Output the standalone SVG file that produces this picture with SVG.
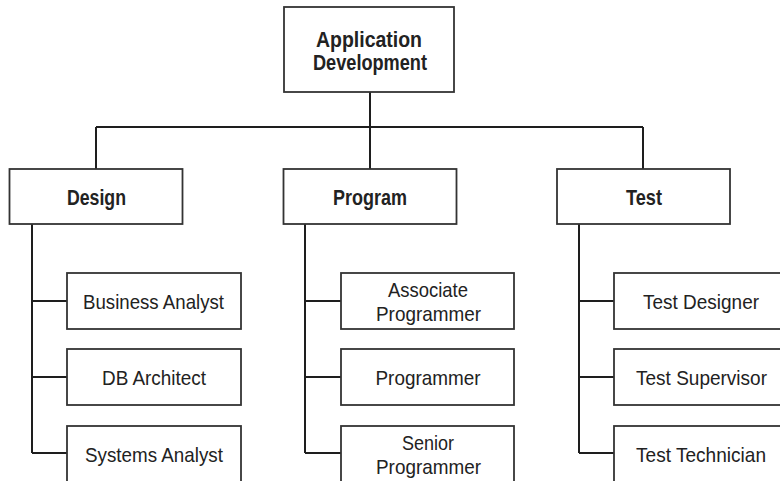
<svg xmlns="http://www.w3.org/2000/svg" width="780" height="481" viewBox="0 0 780 481">
<style>
  .box { fill: #fff; stroke: #333; stroke-width: 1.8; }
  .conn { fill: none; stroke: #1e1e1e; stroke-width: 2; }
  .t { font-family: "Liberation Sans", Arial, sans-serif; font-size: 21px; fill: #222; text-anchor: middle; }
  .b { font-weight: bold; font-size: 22px; }
</style>
<rect width="780" height="481" fill="#fff"/>
<g id="connectors">
  <path class="conn" d="M370 92 V169 M96 127 H643 M96 127 V169 M643 127 V169"/>
  <path class="conn" d="M32 224 V453 M32 301 H67 M32 377 H67 M32 453 H67"/>
  <path class="conn" d="M305 224 V453 M305 301 H341 M305 377 H341 M305 453 H341"/>
  <path class="conn" d="M579 224 V453 M579 301 H614 M579 377 H614 M579 453 H614"/>
</g>
<g id="app-dev">
  <rect class="box" x="284" y="7" width="170" height="85"/>
  <text class="t b" x="369" y="47" textLength="106" lengthAdjust="spacingAndGlyphs">Application</text>
  <text class="t b" x="370" y="70" textLength="114" lengthAdjust="spacingAndGlyphs">Development</text>
</g>
<g id="design">
  <rect class="box" x="9.5" y="169" width="173" height="55"/>
  <text class="t b" x="96.5" y="205" textLength="59" lengthAdjust="spacingAndGlyphs">Design</text>
</g>
<g id="program">
  <rect class="box" x="283.5" y="169" width="173" height="55"/>
  <text class="t b" x="370" y="205" textLength="74" lengthAdjust="spacingAndGlyphs">Program</text>
</g>
<g id="test">
  <rect class="box" x="557" y="169" width="173" height="55"/>
  <text class="t b" x="644" y="205" textLength="36" lengthAdjust="spacingAndGlyphs">Test</text>
</g>
<g id="business-analyst">
  <rect class="box" x="67" y="273" width="174" height="56"/>
  <text class="t" x="153.5" y="309" textLength="141" lengthAdjust="spacingAndGlyphs">Business Analyst</text>
</g>
<g id="db-architect">
  <rect class="box" x="67" y="349" width="174" height="56"/>
  <text class="t" x="154" y="385" textLength="104" lengthAdjust="spacingAndGlyphs">DB Architect</text>
</g>
<g id="systems-analyst">
  <rect class="box" x="67" y="426" width="174" height="56"/>
  <text class="t" x="154" y="462" textLength="138" lengthAdjust="spacingAndGlyphs">Systems Analyst</text>
</g>
<g id="associate-programmer">
  <rect class="box" x="341" y="273" width="173" height="56"/>
  <text class="t" x="428" y="297" textLength="80" lengthAdjust="spacingAndGlyphs">Associate</text>
  <text class="t" x="428.5" y="321" textLength="105" lengthAdjust="spacingAndGlyphs">Programmer</text>
</g>
<g id="programmer">
  <rect class="box" x="341" y="349" width="173" height="56"/>
  <text class="t" x="428" y="385" textLength="105" lengthAdjust="spacingAndGlyphs">Programmer</text>
</g>
<g id="senior-programmer">
  <rect class="box" x="341" y="426" width="173" height="56"/>
  <text class="t" x="428" y="450" textLength="52" lengthAdjust="spacingAndGlyphs">Senior</text>
  <text class="t" x="428.5" y="474" textLength="105" lengthAdjust="spacingAndGlyphs">Programmer</text>
</g>
<g id="test-designer">
  <rect class="box" x="614" y="273" width="174" height="56"/>
  <text class="t" x="701" y="309" textLength="116" lengthAdjust="spacingAndGlyphs">Test Designer</text>
</g>
<g id="test-supervisor">
  <rect class="box" x="614" y="349" width="174" height="56"/>
  <text class="t" x="701.5" y="385" textLength="131" lengthAdjust="spacingAndGlyphs">Test Supervisor</text>
</g>
<g id="test-technician">
  <rect class="box" x="614" y="426" width="174" height="56"/>
  <text class="t" x="701" y="462" textLength="130" lengthAdjust="spacingAndGlyphs">Test Technician</text>
</g>
</svg>
